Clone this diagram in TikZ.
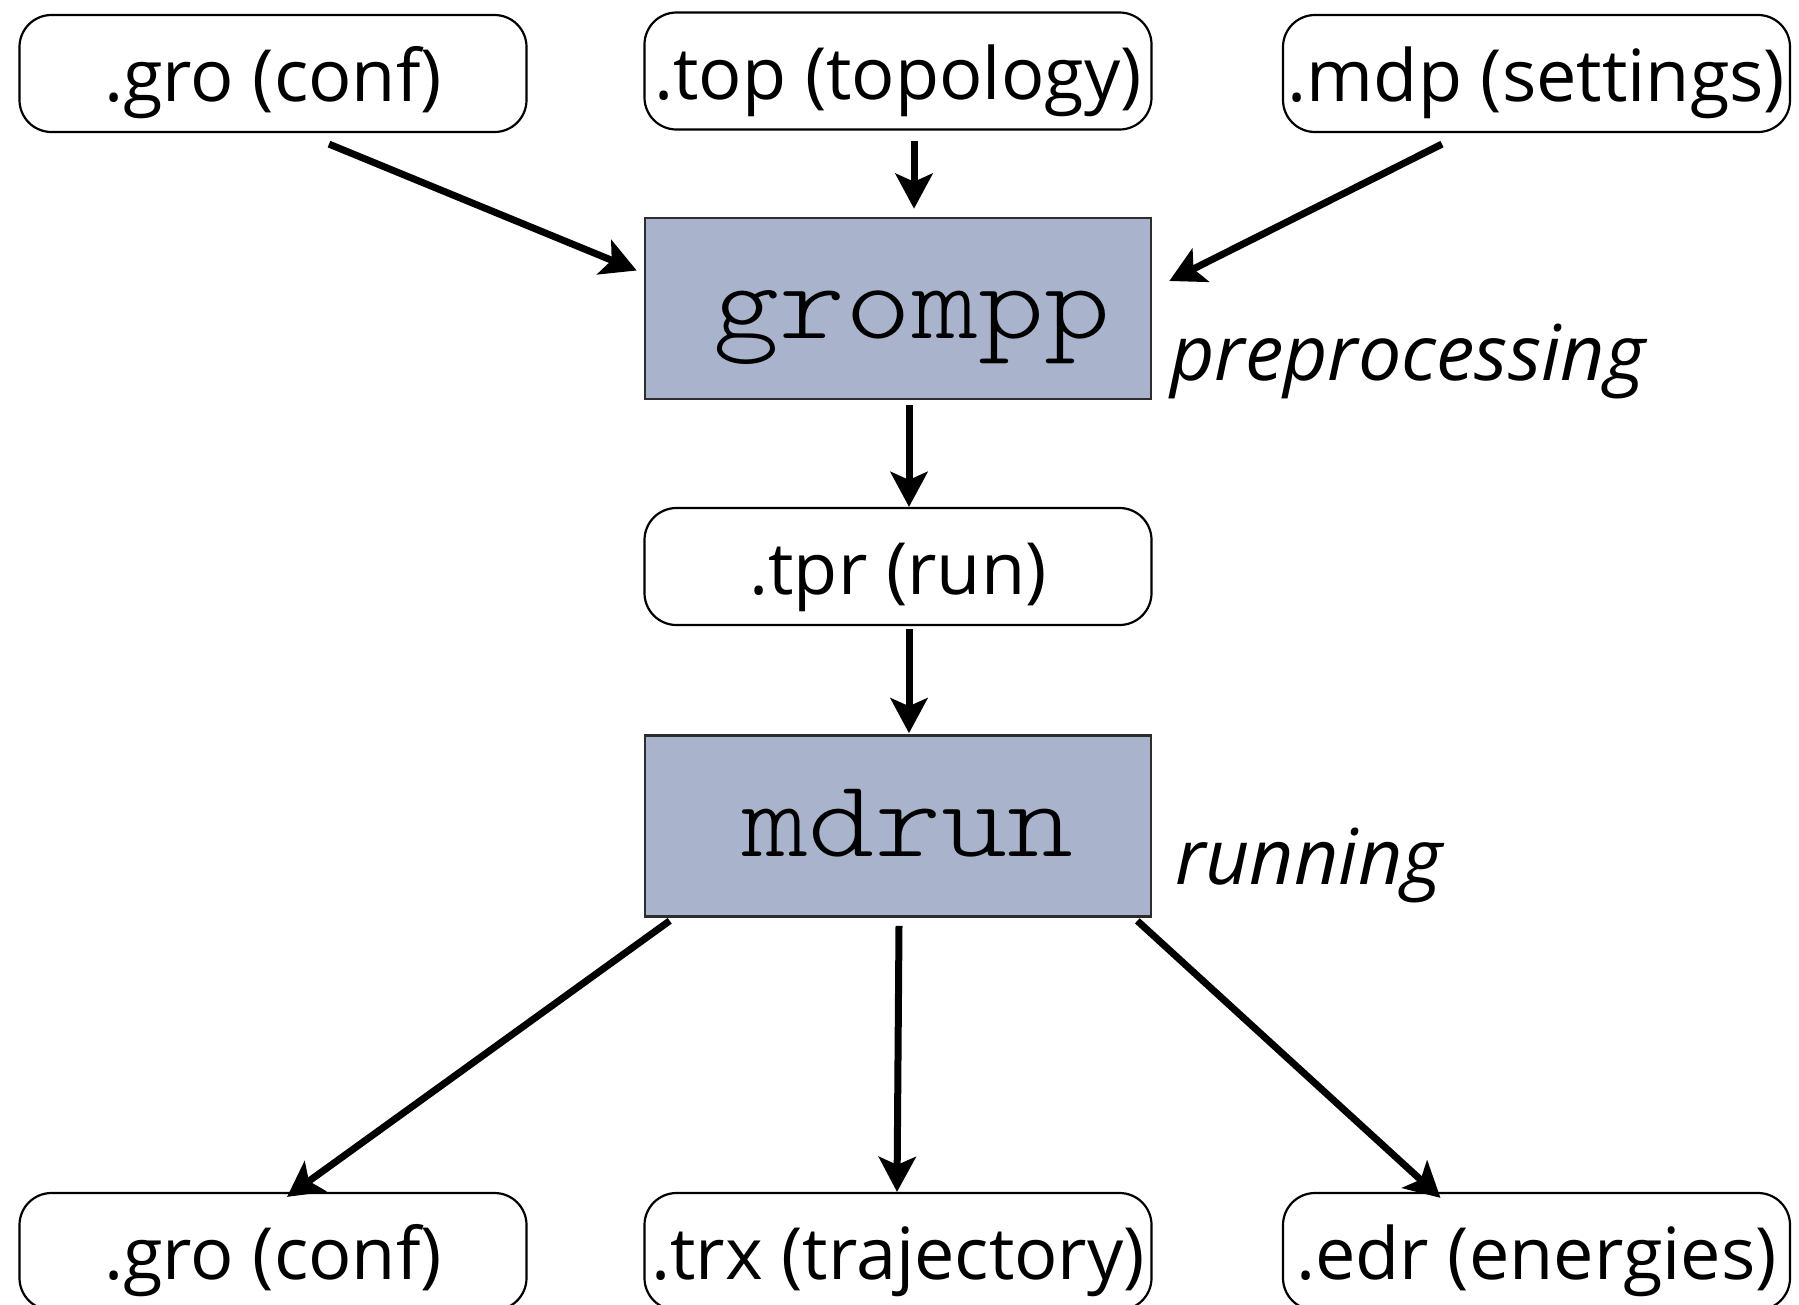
\documentclass[tikz,border=0pt]{standalone}
\usepackage{graphicx}
\usepackage{fontspec}
\setmainfont{Open Sans}
\newfontfamily\progfont{Latin Modern Mono Light}
\usetikzlibrary{arrows.meta}
\definecolor{progfill}{RGB}{169,180,204}
\definecolor{progedge}{RGB}{45,45,45}
\newcommand{\progname}[1]{\scalebox{1.143}[1]{\progfont #1}}
\tikzset{
  filebox/.style={draw=black, line width=2.2pt, rounded corners=32pt,
    minimum width=507pt, minimum height=117pt, inner sep=0pt},
  progbox/.style={draw=progedge, fill=progfill, line width=2.6pt,
    minimum width=506pt, minimum height=181pt, inner sep=0pt},
  filetext/.style={anchor=base, inner sep=0pt, font=\fontsize{72}{80}\selectfont},
  progtext/.style={anchor=base, inner sep=0pt, font=\fontsize{110}{120}\selectfont},
  steptext/.style={anchor=base west, inner sep=0pt, font=\itshape\fontsize{77}{84}\selectfont},
  flow/.style={-{Stealth[length=35pt,width=37pt,inset=8pt]}, line width=7pt}
}
\begin{document}
\begin{tikzpicture}[x=1pt,y=-1pt]
\useasboundingbox (0,0) rectangle (1799,1304);

% input files
\node[filebox] (gro1) at (273,73.5) {};
\node[filebox] (top)  at (898,71)   {};
\node[filebox] (mdp)  at (1536.5,73.5) {};
\node[filetext] (gro1t) at ([shift={(0,88)}]gro1.north) {.gro (conf)};
\node[filetext] (topt)  at ([shift={(0,88)}]top.north)  {.top (topology)};
\node[filetext] (mdpt)  at ([shift={(0,88)}]mdp.north)  {.mdp (settings)};

% preprocessing stage
\node[progbox] (grompp) at (898,308.5) {};
\node[progtext] (gromppt) at ([shift={(14,122)}]grompp.north) {\progname{grompp}};
\node[steptext] (prep) at (1170,380) {preprocessing};

% run input
\node[filebox] (tpr) at (898,566.5) {};
\node[filetext] (tprt) at ([shift={(0,88)}]tpr.north) {.tpr (run)};

% running stage
\node[progbox] (mdrun) at (898,826) {};
\node[progtext] (mdrunt) at ([shift={(10,122)}]mdrun.north) {\progname{mdrun}};
\node[steptext] (runl) at (1175,884) {running};

% output files
\node[filebox] (gro2) at (273,1251.5) {};
\node[filebox] (trx)  at (898,1251.5) {};
\node[filebox] (edr)  at (1536.5,1251.5) {};
\node[filetext] (gro2t) at ([shift={(0,88)}]gro2.north) {.gro (conf)};
\node[filetext] (trxt)  at ([shift={(0,88)}]trx.north)  {.trx (trajectory)};
\node[filetext] (edrt)  at ([shift={(0,88)}]edr.north)  {.edr (energies)};

% connectors
\draw[flow] ([shift={(56,11)}]gro1.south) -- ([shift={(-7,-38)}]grompp.west);
\draw[flow] ([shift={(16,10.5)}]top.south) -- ([shift={(16,-8)}]grompp.north);
\draw[flow] ([shift={(-94.5,11)}]mdp.south) -- ([shift={(17,-27.5)}]grompp.east);
\draw[flow] ([shift={(11,5)}]grompp.south) -- ([shift={(11,0)}]tpr.north);
\draw[flow] ([shift={(11,3)}]tpr.south) -- ([shift={(11,-1)}]mdrun.north);
\draw[flow] ([shift={(26,3)}]mdrun.south west) -- ([shift={(14,5)}]gro2.north);
\draw[flow] ([shift={(1,8)}]mdrun.south) -- ([shift={(-1,0)}]trx.north);
\draw[flow] ([shift={(-15,3)}]mdrun.south east) -- ([shift={(-96,6)}]edr.north);
\end{tikzpicture}
\end{document}
